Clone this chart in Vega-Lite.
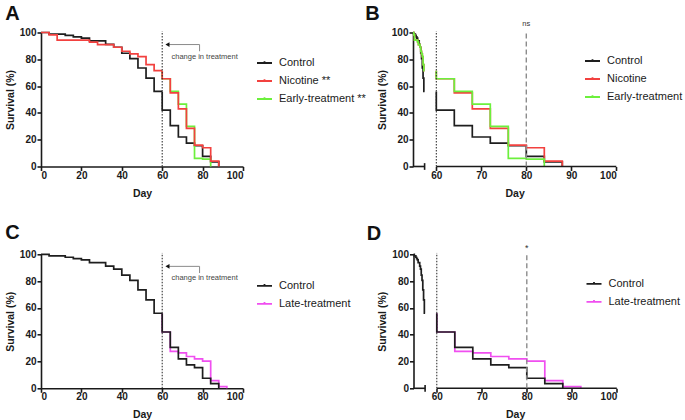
{
  "$schema": "https://vega.github.io/schema/vega-lite/v6.json",
  "background": "white",
  "padding": {"left": 5, "top": 3.5, "right": 0, "bottom": 0},
  "datasets": {
    "km": [
      {"g": "Control", "seg": "pre", "day": 0, "surv": 100},
      {"g": "Control", "seg": "pre", "day": 4, "surv": 98.8},
      {"g": "Control", "seg": "pre", "day": 12, "surv": 97.8},
      {"g": "Control", "seg": "pre", "day": 16, "surv": 96.8},
      {"g": "Control", "seg": "pre", "day": 20, "surv": 95.8},
      {"g": "Control", "seg": "pre", "day": 24, "surv": 93.8},
      {"g": "Control", "seg": "pre", "day": 32, "surv": 91.2},
      {"g": "Control", "seg": "pre", "day": 36, "surv": 89},
      {"g": "Control", "seg": "pre", "day": 40, "surv": 84.5},
      {"g": "Control", "seg": "pre", "day": 44, "surv": 80.5},
      {"g": "Control", "seg": "pre", "day": 48, "surv": 73.5},
      {"g": "Control", "seg": "pre", "day": 52, "surv": 66},
      {"g": "Control", "seg": "pre", "day": 56, "surv": 56},
      {"g": "Control", "seg": "pre", "day": 59.9, "surv": 56},
      {"g": "Control", "seg": "post", "day": 60, "surv": 56},
      {"g": "Control", "seg": "post", "day": 60, "surv": 42},
      {"g": "Control", "seg": "post", "day": 64, "surv": 30.5},
      {"g": "Control", "seg": "post", "day": 68, "surv": 22},
      {"g": "Control", "seg": "post", "day": 72, "surv": 17.5},
      {"g": "Control", "seg": "post", "day": 76, "surv": 15.5},
      {"g": "Control", "seg": "post", "day": 80, "surv": 7.5},
      {"g": "Control", "seg": "post", "day": 84, "surv": 3.5},
      {"g": "Control", "seg": "post", "day": 88, "surv": 0},

      {"g": "Nicotine", "seg": "pre", "day": 0, "surv": 100},
      {"g": "Nicotine", "seg": "pre", "day": 4, "surv": 98.3},
      {"g": "Nicotine", "seg": "pre", "day": 8, "surv": 94.3},
      {"g": "Nicotine", "seg": "pre", "day": 24, "surv": 92.8},
      {"g": "Nicotine", "seg": "pre", "day": 28, "surv": 91},
      {"g": "Nicotine", "seg": "pre", "day": 36, "surv": 89},
      {"g": "Nicotine", "seg": "pre", "day": 40, "surv": 86},
      {"g": "Nicotine", "seg": "pre", "day": 44, "surv": 84},
      {"g": "Nicotine", "seg": "pre", "day": 48, "surv": 82},
      {"g": "Nicotine", "seg": "pre", "day": 52, "surv": 76},
      {"g": "Nicotine", "seg": "pre", "day": 56, "surv": 71.5},
      {"g": "Nicotine", "seg": "pre", "day": 59.9, "surv": 71.5},
      {"g": "Nicotine", "seg": "post", "day": 60, "surv": 71.5},
      {"g": "Nicotine", "seg": "post", "day": 60, "surv": 65.5},
      {"g": "Nicotine", "seg": "post", "day": 64, "surv": 55},
      {"g": "Nicotine", "seg": "post", "day": 68, "surv": 43},
      {"g": "Nicotine", "seg": "post", "day": 72, "surv": 28.5},
      {"g": "Nicotine", "seg": "post", "day": 76, "surv": 16},
      {"g": "Nicotine", "seg": "post", "day": 80, "surv": 14},
      {"g": "Nicotine", "seg": "post", "day": 84, "surv": 4},
      {"g": "Nicotine", "seg": "post", "day": 88, "surv": 0},

      {"g": "Early-treatment", "seg": "pre", "day": 0, "surv": 100},
      {"g": "Early-treatment", "seg": "pre", "day": 4, "surv": 98.3},
      {"g": "Early-treatment", "seg": "pre", "day": 8, "surv": 94.3},
      {"g": "Early-treatment", "seg": "pre", "day": 24, "surv": 92.8},
      {"g": "Early-treatment", "seg": "pre", "day": 28, "surv": 91},
      {"g": "Early-treatment", "seg": "pre", "day": 36, "surv": 89},
      {"g": "Early-treatment", "seg": "pre", "day": 40, "surv": 86},
      {"g": "Early-treatment", "seg": "pre", "day": 44, "surv": 84},
      {"g": "Early-treatment", "seg": "pre", "day": 48, "surv": 82},
      {"g": "Early-treatment", "seg": "pre", "day": 52, "surv": 76},
      {"g": "Early-treatment", "seg": "pre", "day": 56, "surv": 71.5},
      {"g": "Early-treatment", "seg": "pre", "day": 59.9, "surv": 71.5},
      {"g": "Early-treatment", "seg": "post", "day": 60, "surv": 71.5},
      {"g": "Early-treatment", "seg": "post", "day": 60, "surv": 65.5},
      {"g": "Early-treatment", "seg": "post", "day": 64, "surv": 56},
      {"g": "Early-treatment", "seg": "post", "day": 68, "surv": 46.5},
      {"g": "Early-treatment", "seg": "post", "day": 72, "surv": 30},
      {"g": "Early-treatment", "seg": "post", "day": 76, "surv": 6},
      {"g": "Early-treatment", "seg": "post", "day": 80, "surv": 5.5},
      {"g": "Early-treatment", "seg": "post", "day": 84, "surv": 0},

      {"g": "Late-treatment", "seg": "pre", "day": 0, "surv": 100},
      {"g": "Late-treatment", "seg": "pre", "day": 4, "surv": 98.8},
      {"g": "Late-treatment", "seg": "pre", "day": 12, "surv": 97.8},
      {"g": "Late-treatment", "seg": "pre", "day": 16, "surv": 96.8},
      {"g": "Late-treatment", "seg": "pre", "day": 20, "surv": 95.8},
      {"g": "Late-treatment", "seg": "pre", "day": 24, "surv": 93.8},
      {"g": "Late-treatment", "seg": "pre", "day": 32, "surv": 91.2},
      {"g": "Late-treatment", "seg": "pre", "day": 36, "surv": 89},
      {"g": "Late-treatment", "seg": "pre", "day": 40, "surv": 84.5},
      {"g": "Late-treatment", "seg": "pre", "day": 44, "surv": 80.5},
      {"g": "Late-treatment", "seg": "pre", "day": 48, "surv": 73.5},
      {"g": "Late-treatment", "seg": "pre", "day": 52, "surv": 66},
      {"g": "Late-treatment", "seg": "pre", "day": 56, "surv": 56},
      {"g": "Late-treatment", "seg": "pre", "day": 59.9, "surv": 56},
      {"g": "Late-treatment", "seg": "post", "day": 60, "surv": 56},
      {"g": "Late-treatment", "seg": "post", "day": 60, "surv": 42},
      {"g": "Late-treatment", "seg": "post", "day": 64, "surv": 27.5},
      {"g": "Late-treatment", "seg": "post", "day": 68, "surv": 26.5},
      {"g": "Late-treatment", "seg": "post", "day": 72, "surv": 23.75},
      {"g": "Late-treatment", "seg": "post", "day": 76, "surv": 22},
      {"g": "Late-treatment", "seg": "post", "day": 80, "surv": 20.25},
      {"g": "Late-treatment", "seg": "post", "day": 84, "surv": 5.75},
      {"g": "Late-treatment", "seg": "post", "day": 88, "surv": 1.25},
      {"g": "Late-treatment", "seg": "post", "day": 92, "surv": 0}
    ]
  },
  "spacing": 23.8,
  "resolve": {"scale": {"color": "independent"}, "legend": {"color": "independent"}},
  "vconcat": [
    {
      "spacing": -1,
      "resolve": {"scale": {"color": "independent"}, "legend": {"color": "independent"}},
      "hconcat": [
        {
          "title": {"text": "A", "offset": 3.5},
          "width": 202, "height": 134,
          "encoding": {
            "x": {"field": "day", "type": "quantitative", "scale": {"domain": [0, 100], "nice": false}, "axis": {"values": [0, 20, 40, 60, 80, 100], "title": "Day"}},
            "y": {"field": "surv", "type": "quantitative", "scale": {"domain": [0, 100], "nice": false}, "axis": {"values": [0, 20, 40, 60, 80, 100], "title": "Survival (%)"}}
          },
          "layer": [
            {"data": {"name": "km"}, "transform": [{"filter": "datum.g == 'Control'"}], "mark": {"type": "line", "interpolate": "step-after", "strokeWidth": 1.7},
             "encoding": {"color": {"field": "g", "type": "nominal", "scale": {"domain": ["Control", "Nicotine", "Early-treatment"], "range": ["#1e1e1e", "#f2413f", "#6cf03c"]}, "legend": {"title": null, "orient": "none", "legendX": 215, "legendY": 22, "labelExpr": "datum.label == 'Control' ? datum.label : datum.label + ' **'"}}, "detail": {"field": "seg"}, "order": [{"field": "day", "type": "quantitative"}, {"field": "surv", "type": "quantitative", "sort": "descending"}]}},
            {"data": {"name": "km"}, "transform": [{"filter": "datum.g == 'Early-treatment' && datum.seg == 'post'"}], "mark": {"type": "line", "interpolate": "step-after", "strokeWidth": 1.7},
             "encoding": {"color": {"field": "g", "type": "nominal"}, "detail": {"field": "seg"}, "order": [{"field": "day", "type": "quantitative"}, {"field": "surv", "type": "quantitative", "sort": "descending"}]}},
            {"data": {"name": "km"}, "transform": [{"filter": "datum.g == 'Nicotine'"}], "mark": {"type": "line", "interpolate": "step-after", "strokeWidth": 1.7},
             "encoding": {"color": {"field": "g", "type": "nominal"}, "detail": {"field": "seg"}, "order": [{"field": "day", "type": "quantitative"}, {"field": "surv", "type": "quantitative", "sort": "descending"}]}},
            {"data": {"values": [{"day": 60, "surv": 0, "surv2": 101}]}, "mark": {"type": "rule", "color": "#222222", "strokeWidth": 1, "strokeDash": [1.5, 1.5]}, "encoding": {"y2": {"field": "surv2"}}},
            {"data": {"values": [{"day": 62.5, "day2": 78.5, "surv": 91}]}, "mark": {"type": "rule", "color": "#8a8a8a", "strokeWidth": 1}, "encoding": {"x2": {"field": "day2"}}},
            {"data": {"values": [{"day": 78.5, "surv": 91, "surv2": 86}]}, "mark": {"type": "rule", "color": "#8a8a8a", "strokeWidth": 1}, "encoding": {"y2": {"field": "surv2"}}},
            {"data": {"values": [{"day": 62.6, "surv": 91}]}, "mark": {"type": "point", "shape": "triangle-left", "filled": true, "color": "#111111", "size": 22, "opacity": 1}, "encoding": {}},
            {"data": {"values": [{"day": 81, "surv": 82, "label": "change in treatment"}]}, "mark": {"type": "text", "fontSize": 7.5, "color": "#444444"}, "encoding": {"text": {"field": "label"}}}
          ]
        },
        {
          "title": {"text": "B", "offset": -3.5, "dx": -12},
          "width": 203.3, "height": 134,
          "encoding": {
            "x": {"field": "day", "type": "quantitative", "scale": {"domain": [0, 59.9, 60, 100], "range": [0, 11.6, 23.3, 203.3], "nice": false}, "axis": {"values": [60, 70, 80, 90, 100], "title": "Day", "domain": false}},
            "y": {"field": "surv", "type": "quantitative", "scale": {"domain": [0, 100], "nice": false}, "axis": {"values": [0, 20, 40, 60, 80, 100], "title": "Survival (%)"}}
          },
          "layer": [
            {"data": {"name": "km"}, "transform": [{"filter": "datum.g == 'Control'"}], "mark": {"type": "line", "interpolate": "step-after", "strokeWidth": 1.7},
             "encoding": {"color": {"field": "g", "type": "nominal", "scale": {"domain": ["Control", "Nicotine", "Early-treatment"], "range": ["#1e1e1e", "#f2413f", "#6cf03c"]}, "legend": {"title": null, "orient": "none", "legendX": 171, "legendY": 20}}, "detail": {"field": "seg"}, "order": [{"field": "day", "type": "quantitative"}, {"field": "surv", "type": "quantitative", "sort": "descending"}]}},
            {"data": {"name": "km"}, "transform": [{"filter": "datum.g == 'Nicotine'"}], "mark": {"type": "line", "interpolate": "step-after", "strokeWidth": 1.7},
             "encoding": {"color": {"field": "g", "type": "nominal"}, "detail": {"field": "seg"}, "order": [{"field": "day", "type": "quantitative"}, {"field": "surv", "type": "quantitative", "sort": "descending"}]}},
            {"data": {"name": "km"}, "transform": [{"filter": "datum.g == 'Early-treatment'"}], "mark": {"type": "line", "interpolate": "step-after", "strokeWidth": 1.7},
             "encoding": {"color": {"field": "g", "type": "nominal"}, "detail": {"field": "seg"}, "order": [{"field": "day", "type": "quantitative"}, {"field": "surv", "type": "quantitative", "sort": "descending"}]}},
            {"data": {"values": [{"day": 0, "day2": 59.9, "surv": 0}, {"day": 60, "day2": 100, "surv": 0}]}, "mark": {"type": "rule", "color": "#1a1a1a", "strokeWidth": 1.6}, "encoding": {"x2": {"field": "day2"}}},
            {"data": {"values": [{"day": 59.9, "surv": -2.5, "surv2": 2.5}]}, "mark": {"type": "rule", "color": "#1a1a1a", "strokeWidth": 1.6}, "encoding": {"y2": {"field": "surv2"}}},
            {"data": {"values": [{"day": 60, "surv": 0, "surv2": 101}]}, "mark": {"type": "rule", "color": "#222222", "strokeWidth": 1, "strokeDash": [1.5, 1.5]}, "encoding": {"y2": {"field": "surv2"}}},
            {"data": {"values": [{"day": 80, "surv": 0, "surv2": 101}]}, "mark": {"type": "rule", "color": "#8c8c8c", "strokeWidth": 1.4, "strokeDash": [5, 3]}, "encoding": {"y2": {"field": "surv2"}}},
            {"data": {"values": [{"day": 80, "surv": 106, "label": "ns"}]}, "mark": {"type": "text", "fontSize": 7.5, "color": "#333333"}, "encoding": {"text": {"field": "label"}}}
          ]
        }
      ]
    },
    {
      "spacing": 15.5,
      "resolve": {"scale": {"color": "independent"}, "legend": {"color": "independent"}},
      "hconcat": [
        {
          "title": {"text": "C", "offset": 6.2},
          "width": 202, "height": 134,
          "encoding": {
            "x": {"field": "day", "type": "quantitative", "scale": {"domain": [0, 100], "nice": false}, "axis": {"values": [0, 20, 40, 60, 80, 100], "title": "Day"}},
            "y": {"field": "surv", "type": "quantitative", "scale": {"domain": [0, 100], "nice": false}, "axis": {"values": [0, 20, 40, 60, 80, 100], "title": "Survival (%)"}}
          },
          "layer": [
            {"data": {"name": "km"}, "transform": [{"filter": "datum.g == 'Late-treatment' && datum.seg == 'post'"}], "mark": {"type": "line", "interpolate": "step-after", "strokeWidth": 1.7},
             "encoding": {"color": {"field": "g", "type": "nominal", "scale": {"domain": ["Control", "Late-treatment"], "range": ["#1e1e1e", "#f04ff0"]}, "legend": {"title": null, "orient": "none", "legendX": 215, "legendY": 23}}, "detail": {"field": "seg"}, "order": [{"field": "day", "type": "quantitative"}, {"field": "surv", "type": "quantitative", "sort": "descending"}]}},
            {"data": {"name": "km"}, "transform": [{"filter": "datum.g == 'Control'"}], "mark": {"type": "line", "interpolate": "step-after", "strokeWidth": 1.7},
             "encoding": {"color": {"field": "g", "type": "nominal"}, "detail": {"field": "seg"}, "order": [{"field": "day", "type": "quantitative"}, {"field": "surv", "type": "quantitative", "sort": "descending"}]}},
            {"data": {"values": [{"day": 60, "surv": 0, "surv2": 101}]}, "mark": {"type": "rule", "color": "#222222", "strokeWidth": 1, "strokeDash": [1.5, 1.5]}, "encoding": {"y2": {"field": "surv2"}}},
            {"data": {"values": [{"day": 62.5, "day2": 78.5, "surv": 91}]}, "mark": {"type": "rule", "color": "#8a8a8a", "strokeWidth": 1}, "encoding": {"x2": {"field": "day2"}}},
            {"data": {"values": [{"day": 78.5, "surv": 91, "surv2": 86}]}, "mark": {"type": "rule", "color": "#8a8a8a", "strokeWidth": 1}, "encoding": {"y2": {"field": "surv2"}}},
            {"data": {"values": [{"day": 62.6, "surv": 91}]}, "mark": {"type": "point", "shape": "triangle-left", "filled": true, "color": "#111111", "size": 22, "opacity": 1}, "encoding": {}},
            {"data": {"values": [{"day": 81, "surv": 82, "label": "change in treatment"}]}, "mark": {"type": "text", "fontSize": 7.5, "color": "#444444"}, "encoding": {"text": {"field": "label"}}}
          ]
        },
        {
          "title": {"text": "D", "offset": 0, "dx": -11},
          "width": 203.3, "height": 134,
          "encoding": {
            "x": {"field": "day", "type": "quantitative", "scale": {"domain": [0, 59.9, 60, 100], "range": [0, 11.6, 23.3, 203.3], "nice": false}, "axis": {"values": [60, 70, 80, 90, 100], "title": "Day", "domain": false}},
            "y": {"field": "surv", "type": "quantitative", "scale": {"domain": [0, 100], "nice": false}, "axis": {"values": [0, 20, 40, 60, 80, 100], "title": "Survival (%)"}}
          },
          "layer": [
            {"data": {"name": "km"}, "transform": [{"filter": "datum.g == 'Late-treatment' && datum.seg == 'post'"}], "mark": {"type": "line", "interpolate": "step-after", "strokeWidth": 1.7},
             "encoding": {"color": {"field": "g", "type": "nominal", "scale": {"domain": ["Control", "Late-treatment"], "range": ["#1e1e1e", "#f04ff0"]}, "legend": {"title": null, "orient": "none", "legendX": 172, "legendY": 21}}, "detail": {"field": "seg"}, "order": [{"field": "day", "type": "quantitative"}, {"field": "surv", "type": "quantitative", "sort": "descending"}]}},
            {"data": {"name": "km"}, "transform": [{"filter": "datum.g == 'Control'"}], "mark": {"type": "line", "interpolate": "step-after", "strokeWidth": 1.7},
             "encoding": {"color": {"field": "g", "type": "nominal"}, "detail": {"field": "seg"}, "order": [{"field": "day", "type": "quantitative"}, {"field": "surv", "type": "quantitative", "sort": "descending"}]}},
            {"data": {"values": [{"day": 0, "day2": 59.9, "surv": 0}, {"day": 60, "day2": 100, "surv": 0}]}, "mark": {"type": "rule", "color": "#1a1a1a", "strokeWidth": 1.6}, "encoding": {"x2": {"field": "day2"}}},
            {"data": {"values": [{"day": 59.9, "surv": -2.5, "surv2": 2.5}]}, "mark": {"type": "rule", "color": "#1a1a1a", "strokeWidth": 1.6}, "encoding": {"y2": {"field": "surv2"}}},
            {"data": {"values": [{"day": 60, "surv": 0, "surv2": 101}]}, "mark": {"type": "rule", "color": "#222222", "strokeWidth": 1, "strokeDash": [1.5, 1.5]}, "encoding": {"y2": {"field": "surv2"}}},
            {"data": {"values": [{"day": 80, "surv": 0, "surv2": 101}]}, "mark": {"type": "rule", "color": "#8c8c8c", "strokeWidth": 1.4, "strokeDash": [5, 3]}, "encoding": {"y2": {"field": "surv2"}}},
            {"data": {"values": [{"day": 80, "surv": 105, "label": "*"}]}, "mark": {"type": "text", "fontSize": 9, "color": "#333333"}, "encoding": {"text": {"field": "label"}}}
          ]
        }
      ]
    }
  ],
  "config": {
    "view": {"stroke": null},
    "font": "Liberation Sans",
    "title": {"anchor": "start", "frame": "bounds", "fontSize": 20, "fontWeight": "bold", "color": "#111111", "font": "Liberation Sans"},
    "axis": {"grid": false, "domainColor": "#1a1a1a", "domainWidth": 1.6, "tickColor": "#1a1a1a", "tickWidth": 1.6, "tickSize": 4, "labelFont": "Liberation Sans", "labelFontWeight": "bold", "labelFontSize": 10, "labelColor": "#1a1a1a", "labelPadding": -0.5, "titleFont": "Liberation Sans", "titleFontSize": 10.5, "titleFontWeight": "bold", "titleColor": "#1a1a1a", "titlePadding": 8},
    "axisY": {"labelPadding": 1, "titlePadding": 4},
    "legend": {"labelFont": "Liberation Sans", "labelFontSize": 11, "labelColor": "#1a1a1a", "symbolType": "M-1,0H1M0,0V-0.25", "symbolSize": 225, "symbolStrokeWidth": 1.8, "labelOffset": 6, "rowPadding": 4}
  }
}
